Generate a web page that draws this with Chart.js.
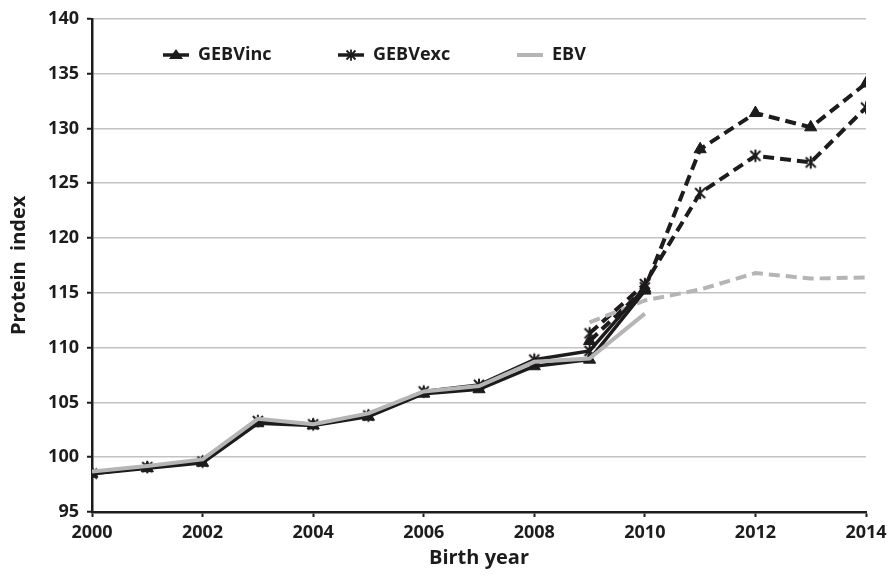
<!DOCTYPE html>
<html>
<head>
<meta charset="utf-8">
<script src="https://cdn.jsdelivr.net/npm/chart.js@4.4.0/dist/chart.umd.min.js"></script>
<style>
    html, body { margin: 0; padding: 0; background: #fff; }
    #wrap { width: 893px; height: 576px; }
</style>
</head>
<body>
<div id="wrap"><canvas id="graphique" width="893" height="576"></canvas></div>
<script>
// donnees
const anneesObs = [2000, 2001, 2002, 2003, 2004, 2005, 2006, 2007, 2008, 2009, 2010];
const anneesPred = [2009, 2010, 2011, 2012, 2013, 2014];

const gebvIncObs = [98.5, 99.0, 99.5, 103.1, 102.9, 103.7, 105.8, 106.2, 108.3, 108.9, 115.2];
const gebvExcObs = [98.5, 99.1, 99.6, 103.3, 103.0, 103.8, 106.0, 106.6, 108.9, 109.7, 115.5];
const ebvObs = [98.7, 99.2, 99.8, 103.5, 103.0, 104.0, 106.0, 106.5, 108.7, 109.0, 113.1];

const gebvIncPred = [110.6, 115.4, 128.1, 131.4, 130.1, 134.1];
const gebvExcPred = [111.3, 115.8, 124.1, 127.5, 126.9, 131.9];
const ebvPred = [112.3, 114.3, 115.3, 116.8, 116.3, 116.4];

const legendeNoms = ['GEBVinc', 'GEBVexc', 'EBV'];

const xTicks = [2000, 2002, 2004, 2006, 2008, 2010, 2012, 2014];
const yMin = 95, yMax = 140, yPas = 5;

const NOIR = '#1e1b1c';
const GRIS = '#b5b5b7';
const POLICE = '"Open Sans", "Noto Sans", sans-serif';

function points(annees, valeurs) {
    return annees.map((a, i) => ({x: a, y: valeurs[i]}));
}

// asterisque facon excel : une croix + un trait vertical
function dessineAsterisque(ctx, cx, cy, r) {
    ctx.beginPath();
    ctx.moveTo(cx - r, cy - r);
    ctx.lineTo(cx + r, cy + r);
    ctx.moveTo(cx + r, cy - r);
    ctx.lineTo(cx - r, cy + r);
    ctx.moveTo(cx, cy - r * 1.25);
    ctx.lineTo(cx, cy + r * 1.25);
    ctx.stroke();
}

function creeAsterisque() {
    const c = document.createElement('canvas');
    c.width = 16;
    c.height = 16;
    const ctx = c.getContext('2d');
    ctx.strokeStyle = NOIR;
    ctx.lineWidth = 2;
    dessineAsterisque(ctx, 8, 8, 5);
    return c;
}

const asterisque = creeAsterisque();

// legende dessinee dans la zone du graphique
const legendePlugin = {
    id: 'legendeInterne',
    afterDraw(chart) {
        const ctx = chart.ctx;
        const y = 55;
        const items = [
            {x: 163, couleur: NOIR, marque: 'triangle', texte: legendeNoms[0]},
            {x: 338, couleur: NOIR, marque: 'asterisque', texte: legendeNoms[1]},
            {x: 517, couleur: GRIS, marque: null, texte: legendeNoms[2]}
        ];
        ctx.save();
        items.forEach(function (it) {
            const cx = it.x + 13;
            ctx.strokeStyle = it.couleur;
            ctx.lineWidth = it.marque ? 3.5 : 4;
            ctx.beginPath();
            ctx.moveTo(it.x, y);
            ctx.lineTo(it.x + 26, y);
            ctx.stroke();
            ctx.fillStyle = NOIR;
            ctx.strokeStyle = NOIR;
            if (it.marque === 'triangle') {
                ctx.beginPath();
                ctx.moveTo(cx, y - 6);
                ctx.lineTo(cx + 7, y + 4);
                ctx.lineTo(cx - 7, y + 4);
                ctx.closePath();
                ctx.fill();
            } else if (it.marque === 'asterisque') {
                ctx.lineWidth = 1.8;
                dessineAsterisque(ctx, cx, y, 4.5);
            }
            ctx.fillStyle = NOIR;
            ctx.font = 'bold 18px ' + POLICE;
            ctx.textBaseline = 'middle';
            ctx.textAlign = 'left';
            ctx.fillText(it.texte, it.x + 35, y);
        });
        ctx.restore();
    }
};

const graph = document.getElementById('graphique');

new Chart(graph, {
    type: 'line',
    data: {
        datasets: [
            {
                label: 'EBV obs',
                data: points(anneesObs, ebvObs),
                borderColor: GRIS,
                borderWidth: 4,
                pointRadius: 0,
                order: 1
            },
            {
                label: 'GEBVexc obs',
                data: points(anneesObs, gebvExcObs),
                borderColor: NOIR,
                backgroundColor: NOIR,
                borderWidth: 3.5,
                pointStyle: asterisque,
                order: 2
            },
            {
                label: 'GEBVinc obs',
                data: points(anneesObs, gebvIncObs),
                borderColor: NOIR,
                backgroundColor: NOIR,
                borderWidth: 3.5,
                pointStyle: 'triangle',
                pointRadius: 7,
                pointBorderWidth: 1,
                order: 3
            },
            {
                label: 'EBV pred',
                data: points(anneesPred, ebvPred),
                borderColor: GRIS,
                borderWidth: 4,
                borderDash: [11, 6],
                pointRadius: 0,
                order: 4
            },
            {
                label: 'GEBVexc pred',
                data: points(anneesPred, gebvExcPred),
                borderColor: NOIR,
                backgroundColor: NOIR,
                borderWidth: 4,
                borderDash: [11, 6],
                pointStyle: asterisque,
                order: 5
            },
            {
                label: 'GEBVinc pred',
                data: points(anneesPred, gebvIncPred),
                borderColor: NOIR,
                backgroundColor: NOIR,
                borderWidth: 4,
                borderDash: [11, 6],
                pointStyle: 'triangle',
                pointRadius: 7,
                pointBorderWidth: 1,
                order: 6
            }
        ]
    },
    options: {
        responsive: false,
        animation: false,
        layout: {
            padding: {top: 17, right: 27, bottom: 0, left: 0}
        },
        plugins: {
            legend: {display: false},
            tooltip: {enabled: false}
        },
        scales: {
            x: {
                type: 'linear',
                min: 2000,
                max: 2014,
                afterFit: function (scale) { scale.height = 64; },
                afterBuildTicks: function (scale) {
                    scale.ticks = xTicks.map(v => ({value: v}));
                },
                border: {color: NOIR, width: 2.5},
                grid: {
                    drawOnChartArea: false,
                    tickLength: 5,
                    tickColor: NOIR,
                    tickWidth: 2
                },
                ticks: {
                    autoSkip: false,
                    maxRotation: 0,
                    padding: 5,
                    color: NOIR,
                    font: {family: POLICE, size: 18, weight: 'bold'},
                    callback: v => String(v)
                },
                title: {
                    display: true,
                    text: 'Birth year',
                    color: NOIR,
                    font: {family: POLICE, size: 20, weight: 'bold'},
                    padding: {top: 0, bottom: 6}
                }
            },
            y: {
                min: yMin,
                max: yMax,
                afterFit: function (scale) { scale.width = 92; },
                border: {color: NOIR, width: 2.5},
                grid: {
                    color: '#c2c2c2',
                    lineWidth: 1.5,
                    tickLength: 5,
                    tickColor: NOIR,
                    tickWidth: 2
                },
                ticks: {
                    stepSize: yPas,
                    padding: 8,
                    color: NOIR,
                    font: {family: POLICE, size: 18, weight: 'bold'}
                },
                title: {
                    display: true,
                    text: 'Protein  index',
                    color: NOIR,
                    font: {family: POLICE, size: 20, weight: 'bold'},
                    padding: {top: 7, bottom: 0}
                }
            }
        }
    },
    plugins: [legendePlugin]
});
</script>
</body>
</html>
